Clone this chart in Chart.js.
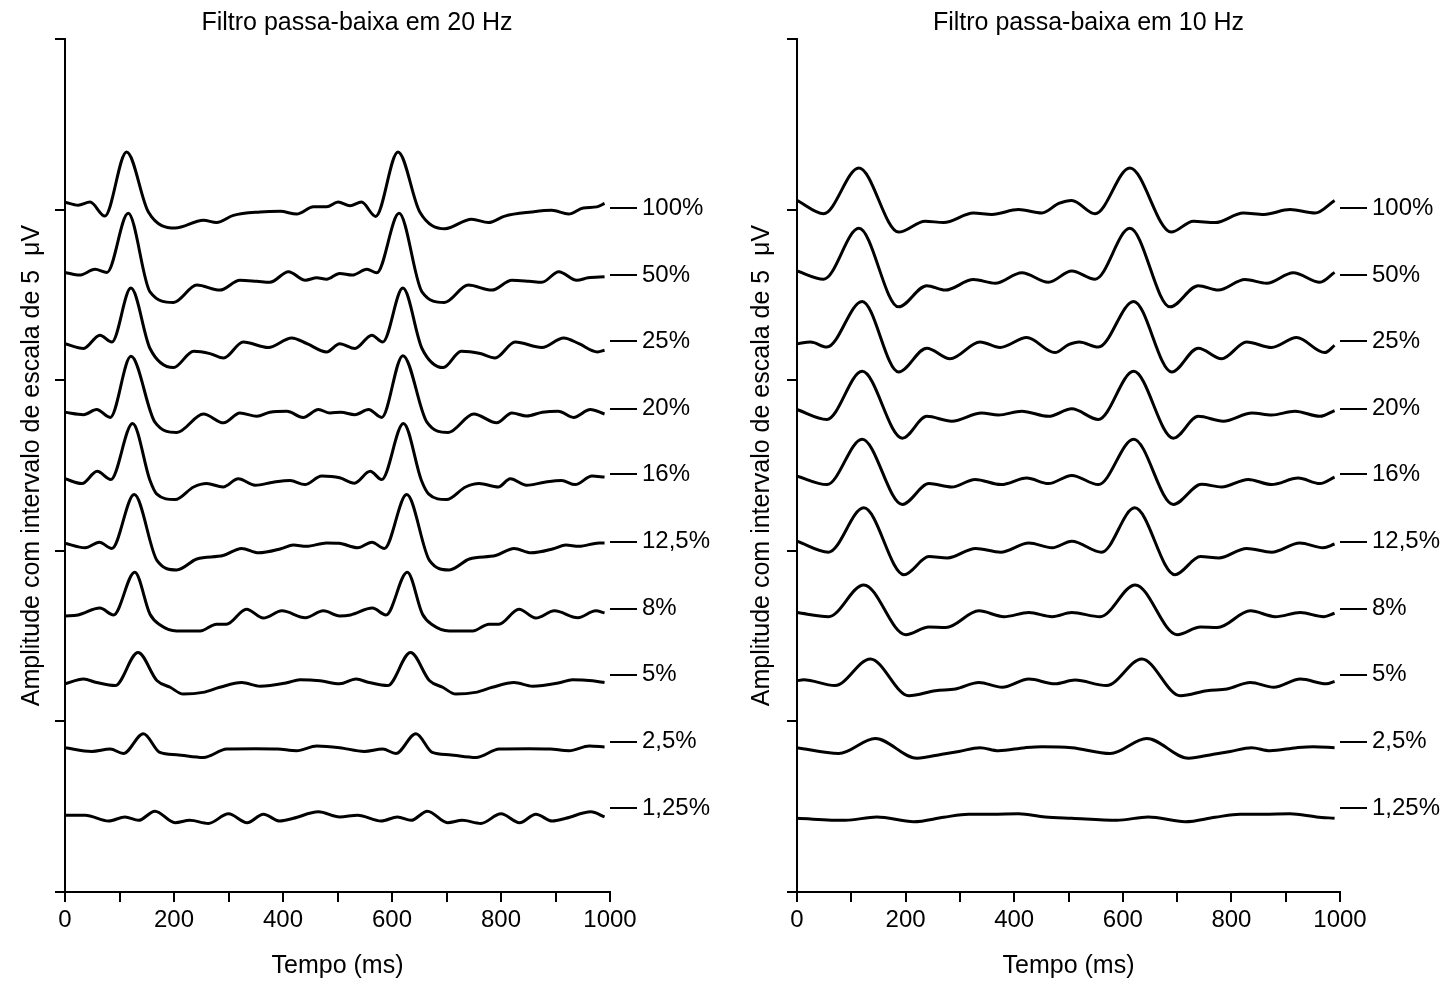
<!DOCTYPE html>
<html lang="pt">
<head>
<meta charset="UTF-8">
<title>Filtro passa-baixa</title>
<script src="https://cdn.jsdelivr.net/npm/chart.js"></script>
<style>
  body { margin: 0; background: #fff; }
  .painel { position: absolute; top: 0; }
</style>
</head>
<body>
<div class="painel" style="left:0"><canvas id="graf20" width="714" height="981"></canvas></div>
<div class="painel" style="left:727px"><canvas id="graf10" width="723" height="981"></canvas></div>
<script>
// niveis de estimulo e posicao vertical (uV) de cada traco
const niveis = ['100%', '50%', '25%', '20%', '16%', '12,5%', '8%', '5%', '2,5%', '1,25%'];
const posicoes = [20.04, 18.08, 16.14, 14.17, 12.24, 10.27, 8.30, 6.37, 4.40, 2.46];

const t20_100 = [0, 24, 46, 73, 113, 153, 202, 254, 278, 309, 358, 395, 425, 456, 480, 501, 523, 544, 570, 611, 651, 697, 746, 777, 807, 856, 893, 924, 951, 976, 990];
const v20_100 = [0.18, 0.09, 0.18, -0.23, 1.65, -0.11, -0.58, -0.35, -0.42, -0.21, -0.11, -0.09, -0.17, 0.04, 0.04, 0.18, 0.07, 0.18, -0.24, 1.65, -0.11, -0.60, -0.32, -0.42, -0.23, -0.11, -0.06, -0.17, 0.01, 0.04, 0.14];
const t20_50 = [0, 27, 55, 77, 116, 156, 199, 242, 284, 321, 352, 376, 410, 441, 462, 480, 504, 527, 554, 572, 613, 655, 696, 740, 783, 820, 852, 875, 906, 939, 960, 990];
const v20_50 = [0.08, 0, 0.17, 0.08, 1.81, -0.49, -0.80, -0.29, -0.44, -0.15, -0.18, -0.21, 0.10, -0.15, -0.08, -0.12, 0.05, 0, 0.17, 0.07, 1.81, -0.49, -0.80, -0.29, -0.44, -0.15, -0.18, -0.21, 0.10, -0.15, -0.08, -0.05];
const t20_25 = [0, 34, 64, 86, 121, 156, 199, 236, 266, 291, 327, 373, 416, 444, 480, 504, 532, 563, 583, 620, 655, 694, 727, 762, 789, 826, 875, 915, 943, 977, 990];
const v20_25 = [-0.07, -0.21, 0.18, -0.02, 1.56, -0.21, -0.77, -0.29, -0.36, -0.49, -0.02, -0.18, 0.10, -0.07, -0.31, -0.07, -0.21, 0.18, -0.02, 1.56, -0.21, -0.77, -0.29, -0.36, -0.49, -0.02, -0.18, 0.10, -0.07, -0.31, -0.26];
const t20_20 = [0, 34, 58, 83, 121, 165, 205, 254, 291, 321, 352, 376, 407, 437, 465, 486, 506, 532, 557, 581, 620, 664, 703, 750, 792, 820, 847, 876, 905, 933, 964, 990];
const v20_20 = [-0.11, -0.18, -0.03, -0.26, 1.53, -0.40, -0.70, -0.16, -0.42, -0.13, -0.23, -0.11, -0.08, -0.26, -0.03, -0.13, -0.11, -0.18, -0.03, -0.26, 1.55, -0.40, -0.70, -0.16, -0.42, -0.13, -0.22, -0.11, -0.08, -0.26, -0.03, -0.16];
const t20_16 = [0, 31, 59, 84, 124, 156, 168, 202, 236, 260, 290, 318, 349, 382, 413, 440, 471, 504, 531, 560, 581, 621, 654, 667, 700, 735, 760, 795, 817, 847, 880, 911, 936, 967, 990];
const v20_16 = [-0.13, -0.27, 0.09, -0.15, 1.49, -0.18, -0.57, -0.74, -0.37, -0.27, -0.37, -0.13, -0.32, -0.23, -0.18, -0.30, -0.05, -0.10, -0.26, 0.09, -0.15, 1.49, -0.18, -0.57, -0.74, -0.37, -0.27, -0.37, -0.13, -0.32, -0.23, -0.18, -0.30, -0.05, -0.08];
const t20_125 = [0, 37, 63, 86, 127, 169, 205, 242, 290, 324, 355, 396, 419, 443, 480, 503, 537, 563, 586, 627, 669, 705, 742, 790, 824, 855, 896, 919, 943, 980, 990];
const v20_125 = [-0.05, -0.18, -0.02, -0.20, 1.38, -0.56, -0.83, -0.51, -0.41, -0.20, -0.33, -0.21, -0.10, -0.14, -0.04, -0.05, -0.18, -0.02, -0.20, 1.38, -0.56, -0.83, -0.51, -0.41, -0.20, -0.33, -0.21, -0.10, -0.14, -0.04, -0.04];
const t20_8 = [0, 24, 64, 89, 128, 156, 174, 205, 248, 278, 296, 333, 364, 398, 441, 474, 504, 524, 564, 589, 628, 656, 674, 705, 748, 778, 796, 833, 864, 898, 941, 974, 990];
const v20_8 = [-0.21, -0.18, 0.02, -0.18, 1.07, -0.16, -0.47, -0.65, -0.65, -0.45, -0.45, -0.01, -0.27, -0.06, -0.26, -0.06, -0.21, -0.18, 0.02, -0.18, 1.07, -0.16, -0.47, -0.65, -0.65, -0.45, -0.45, -0.01, -0.27, -0.06, -0.26, -0.06, -0.12];
const t20_5 = [0, 34, 58, 92, 134, 169, 193, 217, 253, 284, 324, 358, 407, 431, 468, 504, 534, 558, 592, 634, 669, 693, 717, 753, 784, 824, 858, 907, 931, 968, 990];
const v20_5 = [-0.27, -0.13, -0.23, -0.32, 0.65, -0.18, -0.37, -0.57, -0.52, -0.37, -0.23, -0.34, -0.24, -0.15, -0.18, -0.27, -0.13, -0.23, -0.32, 0.65, -0.18, -0.37, -0.57, -0.52, -0.37, -0.23, -0.34, -0.24, -0.15, -0.18, -0.23];
const t20_25b = [0, 49, 83, 107, 144, 174, 205, 254, 297, 350, 390, 425, 462, 504, 549, 583, 607, 644, 674, 705, 754, 797, 850, 890, 925, 962, 990];
const v20_25b = [-0.17, -0.28, -0.21, -0.34, 0.24, -0.31, -0.38, -0.46, -0.21, -0.20, -0.21, -0.26, -0.12, -0.17, -0.28, -0.21, -0.34, 0.24, -0.31, -0.38, -0.46, -0.21, -0.20, -0.21, -0.26, -0.12, -0.15];
const t20_125b = [0, 37, 80, 110, 135, 165, 202, 229, 263, 300, 334, 364, 394, 419, 465, 504, 537, 580, 610, 635, 665, 702, 729, 763, 800, 834, 864, 894, 919, 965, 990];
const v20_125b = [-0.21, -0.21, -0.38, -0.26, -0.36, -0.09, -0.43, -0.36, -0.45, -0.17, -0.43, -0.18, -0.38, -0.30, -0.11, -0.26, -0.21, -0.38, -0.26, -0.36, -0.09, -0.43, -0.36, -0.45, -0.17, -0.43, -0.18, -0.38, -0.30, -0.11, -0.26];

// filtro 10 Hz
const t10_100 = [0, 49, 114, 187, 236, 270, 325, 359, 408, 451, 482, 506, 549, 613, 689, 730, 770, 822, 860, 908, 954, 990];
const v10_100 = [0.23, -0.16, 1.18, -0.70, -0.38, -0.42, -0.14, -0.18, -0.04, -0.14, 0.14, 0.23, -0.16, 1.18, -0.70, -0.38, -0.42, -0.14, -0.18, -0.04, -0.14, 0.23];
const t10_50 = [0, 49, 114, 187, 239, 273, 325, 365, 414, 463, 506, 549, 613, 687, 739, 776, 825, 865, 914, 963, 990];
const v10_50 = [0.12, -0.12, 1.37, -0.93, -0.31, -0.44, -0.13, -0.24, 0.07, -0.21, 0.12, -0.12, 1.37, -0.93, -0.31, -0.44, -0.13, -0.24, 0.07, -0.21, 0.08];
const t10_25 = [0, 25, 55, 120, 187, 239, 282, 337, 374, 423, 475, 500, 520, 555, 620, 690, 739, 782, 828, 874, 920, 972, 990];
const v10_25 = [-0.07, -0.02, -0.17, 1.17, -0.90, -0.20, -0.51, -0.02, -0.18, 0.11, -0.33, -0.10, -0.02, -0.17, 1.17, -0.90, -0.20, -0.51, -0.02, -0.18, 0.11, -0.33, -0.12];
const t10_20 = [0, 55, 120, 194, 239, 285, 340, 371, 414, 463, 506, 555, 620, 693, 739, 785, 838, 874, 917, 963, 990];
const v10_20 = [-0.03, -0.32, 1.09, -0.87, -0.23, -0.37, -0.13, -0.19, -0.08, -0.23, -0.01, -0.32, 1.09, -0.87, -0.23, -0.37, -0.13, -0.19, -0.08, -0.23, -0.06];
const t10_16 = [0, 55, 120, 194, 243, 285, 328, 376, 423, 463, 506, 555, 620, 693, 745, 782, 831, 874, 923, 963, 990];
const v10_16 = [-0.05, -0.30, 1.03, -0.88, -0.27, -0.37, -0.15, -0.30, -0.11, -0.27, -0.03, -0.30, 1.03, -0.88, -0.29, -0.37, -0.15, -0.30, -0.11, -0.27, -0.08];
const t10_125 = [0, 58, 123, 197, 243, 277, 329, 375, 427, 470, 506, 561, 622, 696, 743, 777, 828, 874, 926, 969, 990];
const v10_125 = [0.01, -0.31, 0.99, -0.97, -0.44, -0.48, -0.20, -0.31, -0.04, -0.18, 0.01, -0.31, 0.99, -0.97, -0.44, -0.48, -0.20, -0.31, -0.04, -0.18, -0.07];
const t10_8 = [0, 58, 123, 200, 243, 274, 335, 381, 427, 470, 506, 558, 623, 700, 743, 774, 835, 881, 927, 970, 990];
const v10_8 = [-0.11, -0.23, 0.70, -0.76, -0.53, -0.55, -0.06, -0.23, -0.11, -0.23, -0.11, -0.23, 0.70, -0.76, -0.53, -0.55, -0.06, -0.23, -0.11, -0.23, -0.13];
const t10_5 = [0, 12, 70, 135, 206, 255, 292, 335, 378, 427, 475, 512, 570, 635, 706, 755, 792, 835, 878, 927, 975, 990];
const v10_5 = [-0.18, -0.15, -0.32, 0.46, -0.62, -0.47, -0.42, -0.23, -0.37, -0.13, -0.27, -0.16, -0.32, 0.46, -0.62, -0.47, -0.42, -0.23, -0.37, -0.13, -0.27, -0.20];
const t10_25b = [0, 77, 144, 221, 267, 298, 337, 371, 420, 451, 506, 577, 644, 721, 767, 798, 837, 871, 920, 951, 990];
const v10_25b = [-0.17, -0.34, 0.10, -0.48, -0.36, -0.28, -0.17, -0.26, -0.17, -0.14, -0.17, -0.34, 0.10, -0.48, -0.36, -0.28, -0.17, -0.26, -0.17, -0.14, -0.17];
const t10_125b = [0, 89, 147, 215, 270, 316, 359, 408, 457, 506, 589, 647, 715, 770, 816, 859, 908, 957, 990];
const v10_125b = [-0.30, -0.36, -0.26, -0.40, -0.27, -0.18, -0.18, -0.17, -0.26, -0.30, -0.36, -0.26, -0.40, -0.27, -0.18, -0.18, -0.17, -0.26, -0.30];

const tempos20 = [t20_100, t20_50, t20_25, t20_20, t20_16, t20_125, t20_8, t20_5, t20_25b, t20_125b];
const valores20 = [v20_100, v20_50, v20_25, v20_20, v20_16, v20_125, v20_8, v20_5, v20_25b, v20_125b];
const tempos10 = [t10_100, t10_50, t10_25, t10_20, t10_16, t10_125, t10_8, t10_5, t10_25b, t10_125b];
const valores10 = [v10_100, v10_50, v10_25, v10_20, v10_16, v10_125, v10_8, v10_5, v10_25b, v10_125b];

Chart.defaults.font.family = '"Liberation Sans", Arial, sans-serif';
Chart.defaults.color = '#000';

// monta um painel com os 10 tracos empilhados
function criaGrafico(id, titulo, tempos, valores, largEsq, largDir, padTitulo) {
    const datasets = niveis.map((nome, i) => ({
        label: nome,
        yAxisID: 'y',
        data: tempos[i].map((t, j) => ({ x: t, y: posicoes[i] + valores[i][j] })),
        borderColor: '#000',
        borderWidth: 3,
        borderJoinStyle: 'round',
        pointRadius: 0,
        fill: false,
        cubicInterpolationMode: 'monotone'
    }));

    new Chart(document.getElementById(id), {
        type: 'line',
        data: { datasets: datasets },
        options: {
            responsive: false,
            animation: false,
            devicePixelRatio: 1,
            layout: { padding: 0 },
            plugins: {
                legend: { display: false },
                tooltip: { enabled: false },
                title: {
                    display: true,
                    text: titulo,
                    color: '#000',
                    font: { size: 25, weight: 'normal' },
                    padding: { top: 8, bottom: 1 }
                }
            },
            scales: {
                x: {
                    type: 'linear',
                    min: 0,
                    max: 1000,
                    ticks: {
                        stepSize: 100,
                        autoSkip: false,
                        maxRotation: 0,
                        padding: 4,
                        font: { size: 24 },
                        callback: v => (v % 200 === 0 ? v : '')
                    },
                    grid: { drawOnChartArea: false, tickLength: 10, color: '#000', lineWidth: 2 },
                    border: { color: '#000', width: 2 },
                    title: { display: true, text: 'Tempo (ms)', font: { size: 25 }, padding: { top: 0, bottom: 0 } },
                    afterFit: s => { s.height = 89; }
                },
                y: {
                    type: 'linear',
                    position: 'left',
                    min: 0,
                    max: 25,
                    ticks: { stepSize: 5, display: false },
                    grid: { drawOnChartArea: false, tickLength: 10, color: '#000', lineWidth: 2 },
                    border: { color: '#000', width: 2 },
                    title: {
                        display: true,
                        text: 'Amplitude com intervalo de escala de 5  μV',
                        font: { size: 25 },
                        padding: { top: padTitulo, bottom: 0 }
                    },
                    afterFit: s => { s.width = largEsq; }
                },
                y2: {
                    type: 'linear',
                    position: 'right',
                    min: 0,
                    max: 25,
                    afterBuildTicks: s => { s.ticks = posicoes.map(v => ({ value: v })); },
                    ticks: {
                        autoSkip: false,
                        padding: 5,
                        font: { size: 24 },
                        callback: v => niveis[posicoes.indexOf(v)]
                    },
                    grid: { drawOnChartArea: false, tickLength: 27, color: '#000', lineWidth: 2 },
                    border: { display: false },
                    afterFit: s => { s.width = largDir; }
                }
            }
        }
    });
}

criaGrafico('graf20', 'Filtro passa-baixa em 20 Hz', tempos20, valores20, 65, 104, 17);
criaGrafico('graf10', 'Filtro passa-baixa em 10 Hz', tempos10, valores10, 70, 110, 20);
</script>
</body>
</html>
